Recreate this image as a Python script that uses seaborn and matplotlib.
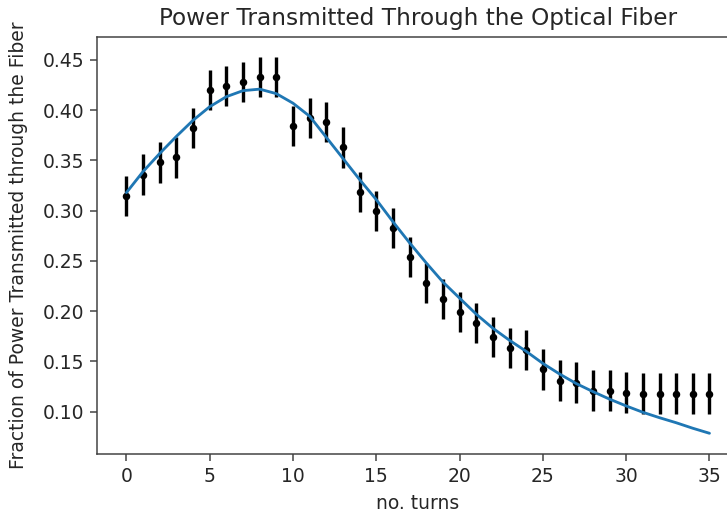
import matplotlib
matplotlib.use("Agg")
import matplotlib.pyplot as plt
import seaborn as sns

sns.set_style("ticks")
plt.rcParams['font.family'] = ['DejaVu Sans']

# measured transmission vs number of fiber turns
turns = list(range(36))
power = [0.315, 0.336, 0.348, 0.353, 0.382, 0.420, 0.424, 0.428, 0.433, 0.433,
         0.384, 0.392, 0.388, 0.363, 0.319, 0.300, 0.283, 0.254, 0.228, 0.212,
         0.199, 0.188, 0.174, 0.163, 0.161, 0.142, 0.131, 0.129, 0.121, 0.121,
         0.119, 0.118, 0.118, 0.118, 0.118, 0.118]
uncertainty = 0.02

# fitted curve, read at each turn
fit = [0.318, 0.339, 0.357, 0.374, 0.390, 0.4035, 0.4135, 0.4195, 0.421, 0.4165,
       0.407, 0.394, 0.373, 0.352, 0.331, 0.311, 0.289, 0.268, 0.248, 0.229,
       0.213, 0.197, 0.183, 0.171, 0.160, 0.148, 0.1375, 0.128, 0.120, 0.1125,
       0.1057, 0.0994, 0.094, 0.089, 0.0835, 0.0785]

dpi = 135
fig = plt.figure(figsize=(727 / dpi, 516 / dpi), dpi=dpi)
# right spine falls just outside the figure, as in the cropped original
ax = fig.add_axes([0.1338, 0.1202, 0.8822, 0.8087])

ax.errorbar(turns, power, yerr=uncertainty, fmt='k.', elinewidth=1.8, zorder=2)
sns.lineplot(x=turns, y=fit, ax=ax, color='C0', linewidth=1.5, zorder=3)

ax.set_xlim(-1.75, 36.75)
ax.set_ylim(0.0579, 0.4732)
ax.set_xticks([0, 5, 10, 15, 20, 25, 30, 35])
ax.set_yticks([0.10, 0.15, 0.20, 0.25, 0.30, 0.35, 0.40, 0.45])
ax.set_title("Power Transmitted Through the Optical Fiber", fontsize=12.4)
ax.set_xlabel("no. turns", fontsize=10)
ax.set_ylabel("Fraction of Power Transmitted through the Fiber", fontsize=10, labelpad=7.5)
for s in ax.spines.values():
    s.set_linewidth(0.8)
    s.set_color('.25')
ax.tick_params(width=0.8, length=3.5, color='.25', labelsize=10)

plt.savefig("out.png", dpi=dpi)
